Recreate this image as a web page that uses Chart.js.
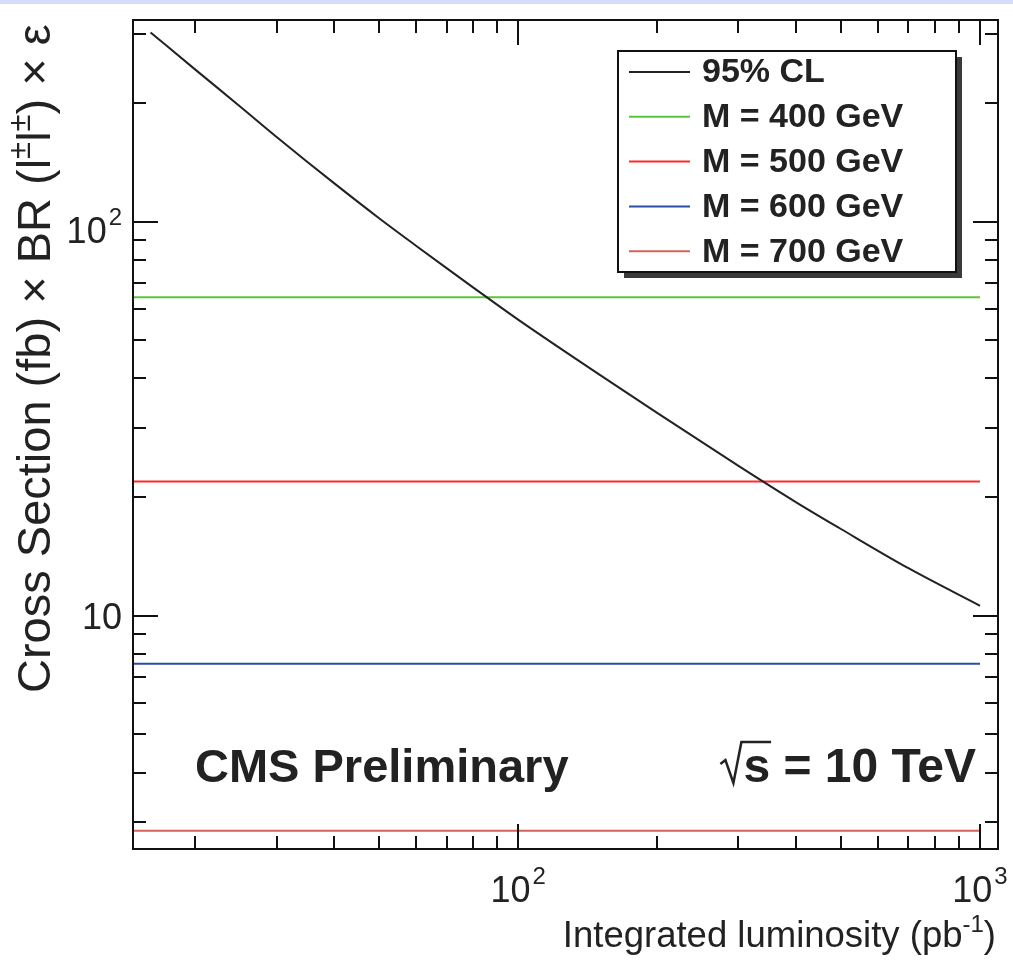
<!DOCTYPE html>
<html>
<head>
<meta charset="utf-8">
<script src="https://cdn.jsdelivr.net/npm/chart.js@4.4.1/dist/chart.umd.min.js"></script>
<style>
  html, body { margin: 0; padding: 0; background: #fff; }
  #wrap { width: 1013px; height: 973px; position: relative; }
</style>
</head>
<body>
<div id="wrap"><canvas id="c" width="1013" height="973"></canvas></div>
<script>
// Expected 95% CL limit on cross section x BR x efficiency vs integrated luminosity
const luminosity = [16, 20, 25, 30, 40, 50, 60, 70, 80, 100, 150, 200, 300, 400, 500, 700, 1000];
const limit95    = [302, 243, 196, 164, 125, 102, 87.0, 76.2, 68.0, 56.4, 40.9, 32.7, 24.0, 19.4, 16.6, 13.2, 10.6];

// Signal expectation for each doubly-charged Higgs mass
const massLabels = ['M = 400 GeV', 'M = 500 GeV', 'M = 600 GeV', 'M = 700 GeV'];
const massXsec   = [64.3, 21.9, 7.55, 2.85];
const massColors = ['#5cc43a', '#ff2a2a', '#2a4ea6', '#d6625a'];
const limitLabel = '95% CL';
const limitColor = '#222222';

// Luminosity span covered by the signal lines, and axis ranges
const lumiRange  = [14.66, 1000];
const xAxisRange = [14.66, 1094];
const yAxisRange = [2.56, 324.7];

// Axis ticks and their labels ("base^exponent")
const xMajorTicks  = [100, 1000];
const xTickLabels  = ['10^2', '10^3'];
const xMinorTicks  = [20, 30, 40, 50, 60, 70, 80, 90, 200, 300, 400, 500, 600, 700, 800, 900];
const yMajorTicks  = [10, 100];
const yTickLabels  = ['10', '10^2'];
const yMinorTicks  = [3, 4, 5, 6, 7, 8, 9, 20, 30, 40, 50, 60, 70, 80, 90, 200, 300];

const FONT = '"Liberation Sans", Arial, Helvetica, sans-serif';
const INK = '#222';

const datasets = [{
  label: limitLabel,
  data: luminosity.map((l, i) => ({ x: l, y: limit95[i] })),
  borderColor: limitColor,
  borderWidth: 2,
  pointRadius: 0,
  cubicInterpolationMode: 'monotone'
}].concat(massLabels.map((lab, i) => ({
  label: lab,
  data: lumiRange.map(l => ({ x: l, y: massXsec[i] })),
  borderColor: massColors[i],
  borderWidth: 2,
  pointRadius: 0
})));

function drawPow(ctx, text, x, y, align, size) {
  const [base, exp] = text.split('^');
  const supSize = Math.round(size * 0.66);
  ctx.font = size + 'px ' + FONT;
  const wb = ctx.measureText(base).width;
  let we = 0;
  if (exp) { ctx.font = supSize + 'px ' + FONT; we = ctx.measureText(exp).width + 2; }
  const total = wb + we;
  let x0 = align === 'center' ? x - total / 2 : (align === 'right' ? x - total : x);
  ctx.textAlign = 'left';
  ctx.textBaseline = 'alphabetic';
  ctx.font = size + 'px ' + FONT;
  ctx.fillText(base, x0, y);
  if (exp) {
    ctx.font = supSize + 'px ' + FONT;
    ctx.fillText(exp, x0 + wb + 2, y - size * 0.5);
  }
}

// Draws a run of text pieces; pieces flagged sup are raised and smaller
function drawRun(ctx, pieces, x, y, size, weight) {
  let cx = x;
  pieces.forEach(p => {
    const s = p.sup ? Math.round(size * 0.65) : size;
    ctx.font = (weight || '') + ' ' + s + 'px ' + FONT;
    ctx.fillText(p.t, cx, p.sup ? y - size * 0.42 : y);
    cx += ctx.measureText(p.t).width;
  });
  return cx - x;
}
function runWidth(ctx, pieces, size, weight) {
  let w = 0;
  pieces.forEach(p => {
    const s = p.sup ? Math.round(size * 0.65) : size;
    ctx.font = (weight || '') + ' ' + s + 'px ' + FONT;
    w += ctx.measureText(p.t).width;
  });
  return w;
}

const framePlugin = {
  id: 'frame',
  beforeDraw(chart) {
    const ctx = chart.ctx;
    ctx.save();
    ctx.fillStyle = '#fff';
    ctx.fillRect(0, 0, chart.width, chart.height);
    ctx.fillStyle = '#d6ddf8';
    ctx.fillRect(0, 0, chart.width, 4);
    ctx.restore();
  },
  afterDatasetsDraw(chart) {
    const ctx = chart.ctx;
    const a = chart.chartArea;
    const xs = chart.scales.x, ys = chart.scales.y;
    ctx.save();

    // ticks on all four sides, pointing inward
    ctx.strokeStyle = '#111';
    ctx.lineWidth = 2;
    const MAJ = 25, MIN = 13;
    const tickX = (v, len) => {
      const px = Math.round(xs.getPixelForValue(v));
      ctx.beginPath();
      ctx.moveTo(px, a.bottom); ctx.lineTo(px, a.bottom - len);
      ctx.moveTo(px, a.top); ctx.lineTo(px, a.top + len);
      ctx.stroke();
    };
    const tickY = (v, len) => {
      const py = Math.round(ys.getPixelForValue(v));
      ctx.beginPath();
      ctx.moveTo(a.left, py); ctx.lineTo(a.left + len, py);
      ctx.moveTo(a.right, py); ctx.lineTo(a.right - len, py);
      ctx.stroke();
    };
    xMinorTicks.forEach(v => tickX(v, MIN));
    xMajorTicks.forEach(v => tickX(v, MAJ));
    yMinorTicks.forEach(v => tickY(v, MIN));
    yMajorTicks.forEach(v => tickY(v, MAJ));

    // frame
    ctx.strokeRect(a.left, a.top, a.right - a.left, a.bottom - a.top);

    // tick labels
    ctx.fillStyle = INK;
    xMajorTicks.forEach((v, i) => drawPow(ctx, xTickLabels[i], xs.getPixelForValue(v), a.bottom + 53, 'center', 36));
    yMajorTicks.forEach((v, i) => {
      const py = ys.getPixelForValue(v);
      const hasExp = yTickLabels[i].indexOf('^') >= 0;
      drawPow(ctx, yTickLabels[i], a.left - 11, py + 13 + (hasExp ? 8 : 0), 'right', 36);
    });

    // x axis title
    const xt = [{ t: 'Integrated luminosity (pb' }, { t: '-1', sup: true }, { t: ')' }];
    ctx.textAlign = 'left';
    ctx.textBaseline = 'alphabetic';
    const xw = runWidth(ctx, xt, 36.5);
    drawRun(ctx, xt, 996 - xw, 947, 36.5);

    // y axis title, rotated
    ctx.save();
    ctx.translate(50, 693);
    ctx.rotate(-Math.PI / 2);
    drawRun(ctx, [{ t: 'Cross Section (fb) \u00d7 BR (l' }, { t: '\u00b1', sup: true }, { t: 'l' }, { t: '\u00b1', sup: true }, { t: ') \u00d7 \u03b5' }], 0, 0, 47);
    ctx.restore();

    // annotations
    ctx.font = 'bold 47px ' + FONT;
    ctx.fillText('CMS Preliminary', 195, 782);

    const rest = ' = 10 TeV';
    ctx.font = 'bold 48px ' + FONT;
    const ws = ctx.measureText('s').width;
    const wt = ctx.measureText(rest).width;
    const sx = 976 - (ws + wt);
    // radical sign with overbar spanning the s
    ctx.strokeStyle = INK;
    ctx.lineWidth = 2.5;
    ctx.lineJoin = 'miter';
    ctx.beginPath();
    ctx.moveTo(sx - 23, 764);
    ctx.lineTo(sx - 18, 760);
    ctx.lineTo(sx - 10, 783);
    ctx.lineTo(sx - 2, 742);
    ctx.lineTo(sx + ws + 1, 742);
    ctx.stroke();
    ctx.fillText('s', sx, 782);
    ctx.fillText(rest, sx + ws, 782);

    // legend box with shadow
    const L = { x: 618, y: 51, w: 338, h: 221 };
    ctx.fillStyle = '#3a3a3a';
    ctx.fillRect(L.x + 6, L.y + 6, L.w, L.h);
    ctx.fillStyle = '#fff';
    ctx.fillRect(L.x, L.y, L.w, L.h);
    ctx.strokeStyle = '#111';
    ctx.lineWidth = 2;
    ctx.strokeRect(L.x, L.y, L.w, L.h);
    chart.data.datasets.forEach((ds, i) => {
      const y = 72 + i * 44.8;
      ctx.strokeStyle = ds.borderColor;
      ctx.lineWidth = 2;
      ctx.beginPath();
      ctx.moveTo(629, y); ctx.lineTo(690, y);
      ctx.stroke();
      ctx.fillStyle = INK;
      ctx.font = 'bold 34px ' + FONT;
      ctx.textBaseline = 'middle';
      ctx.fillText(ds.label, 702, y + 1);
      ctx.textBaseline = 'alphabetic';
    });
    ctx.restore();
  }
};

new Chart(document.getElementById('c'), {
  type: 'line',
  data: { datasets },
  options: {
    responsive: false,
    animation: false,
    parsing: true,
    layout: { padding: { left: 133, top: 20, right: 15, bottom: 124 } },
    plugins: { legend: { display: false }, tooltip: { enabled: false } },
    scales: {
      x: { type: 'logarithmic', min: xAxisRange[0], max: xAxisRange[1], display: false },
      y: { type: 'logarithmic', min: yAxisRange[0], max: yAxisRange[1], display: false }
    }
  },
  plugins: [framePlugin]
});
</script>
</body>
</html>
